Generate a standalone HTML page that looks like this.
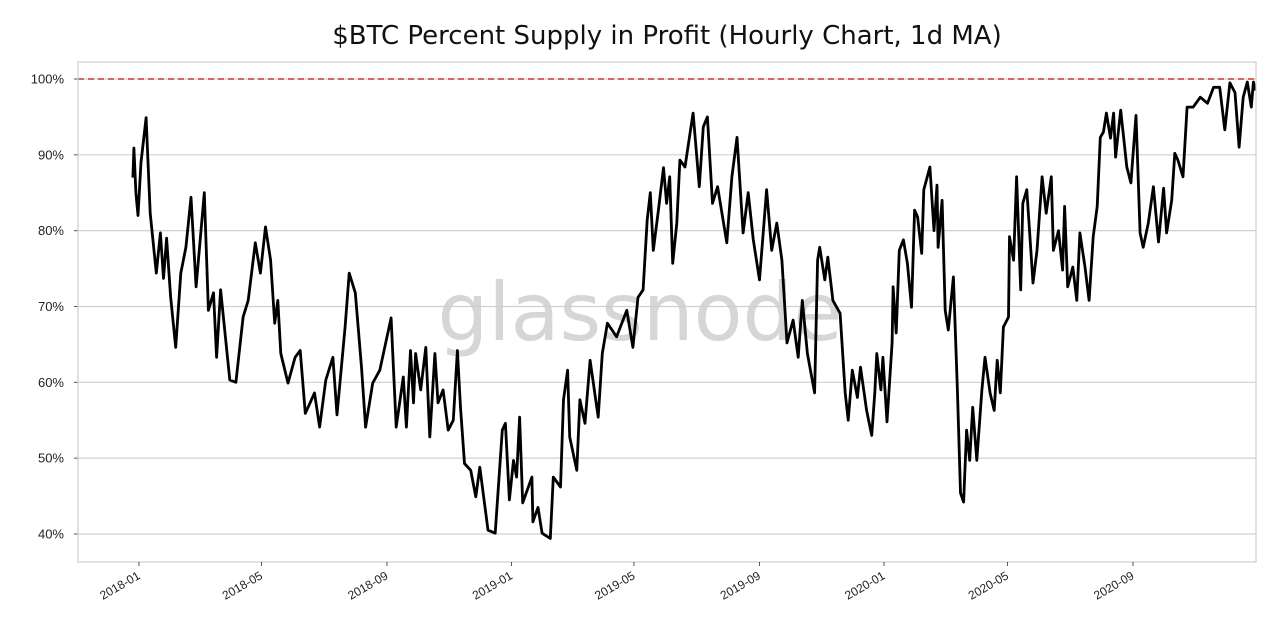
<!DOCTYPE html>
<html><head><meta charset="utf-8"><style>
html,body{margin:0;padding:0;background:#fff;}
svg{display:block;font-family:"Liberation Sans","DejaVu Sans",sans-serif;}
</style></head><body>
<svg id="chart" width="1280" height="640" viewBox="0 0 1280 640">
<text x="667" y="44" text-anchor="middle" font-size="26" fill="#111" font-family="DejaVu Sans, Liberation Sans, sans-serif">$BTC Percent Supply in Profit (Hourly Chart, 1d MA)</text>
<g id="grid"></g>
<text x="640" y="340" text-anchor="middle" font-size="80" fill="#cccccc" fill-opacity="0.8" font-family="DejaVu Sans, Liberation Sans, sans-serif">glassnode</text>
<g id="marks"></g>
<g id="axes"></g>
</svg>
<script>
const days = [-6,-5,-3,-1,2,7,11,17,21,24,27,31,36,41,46,51,56,64,68,73,76,80,89,95,102,107,114,119,124,129,133,136,139,146,153,158,163,172,177,183,190,194,202,206,212,218,222,229,236,247,252,259,262,266,269,271,276,281,285,290,293,298,303,308,312,315,319,325,330,334,342,349,356,359,363,367,370,373,376,385,386,391,395,403,406,413,416,420,422,429,432,437,442,450,454,459,468,478,484,489,494,498,501,504,509,514,517,520,523,527,530,535,540,543,549,553,557,562,567,576,581,586,592,597,602,608,615,620,625,630,635,641,646,650,655,662,665,667,672,675,680,687,692,695,699,704,707,713,718,721,723,727,729,733,738,739,742,745,749,753,757,760,763,767,769,775,779,782,783,787,790,793,798,802,805,808,811,814,817,821,826,829,834,838,841,844,847,852,853,857,860,864,866,870,876,880,885,889,894,896,901,905,907,910,915,919,922,927,931,935,939,942,945,948,952,955,957,962,968,972,977,981,984,989,994,999,1004,1007,1012,1015,1018,1023,1027,1033,1040,1047,1053,1059,1064,1069,1074,1078,1082,1086,1090,1092,1094];
const values = [87,90.9,85,82,89,94.9,82.3,74.4,79.7,73.7,79,71.3,64.6,74.4,77.8,84.4,72.6,85,69.5,71.8,63.3,72.2,60.3,60,68.6,70.8,78.4,74.4,80.5,76.1,67.8,70.8,63.8,59.9,63.3,64.2,55.9,58.6,54.1,60.3,63.3,55.7,67.3,74.4,71.8,62,54.1,59.9,61.6,68.5,54.1,60.7,54.1,64.2,57.3,63.8,59,64.6,52.8,63.8,57.3,59,53.7,55,64.2,56.7,49.3,48.4,44.9,48.8,40.5,40.1,53.7,54.6,44.5,49.7,47.5,55.4,44.1,47.5,41.6,43.5,40.1,39.4,47.5,46.2,57.7,61.6,52.8,48.4,57.7,54.6,62.9,55.4,63.8,67.8,66,69.5,64.6,71.2,72.2,81.4,85,77.4,82.7,88.3,83.6,87.1,75.7,81,89.3,88.4,92.9,95.5,85.8,93.7,95,83.6,85.8,78.4,87.1,92.3,79.7,85,78.8,73.5,85.4,77.4,81,76.1,65.2,68.2,63.3,70.8,63.8,58.6,76.1,77.8,73.5,76.5,70.8,69.1,58.6,55,61.6,58,62,56.3,53,58.6,63.8,59,63.3,54.8,65.2,72.6,66.5,77.4,78.8,75.7,69.9,82.7,81.8,77,85.4,88.4,80,86,77.8,84,69.5,66.9,73.9,59,45.4,44.2,53.7,49.7,56.7,49.7,59,63.3,58.6,56.3,62.9,58.6,67.3,68.6,79.2,76.1,87.1,72.2,83.6,85.4,73.1,77.4,87.1,82.3,87.1,77.4,80,74.8,83.2,72.6,75.2,70.8,79.7,75.2,70.8,79.2,83.2,92.3,93,95.5,92.2,95.5,89.7,95.9,88.4,86.3,95.2,79.7,77.8,81,85.8,78.5,85.6,79.7,84,90.2,89.3,87.1,96.3,96.3,97.6,96.8,98.9,98.9,93.3,99.5,98.2,91,97.6,99.6,96.3,99.6,98.5];
const yTicks = [40,50,60,70,80,90,100];
const xTickLabels = ["2018-01","2018-05","2018-09","2019-01","2019-05","2019-09","2020-01","2020-05","2020-09"];
const xTickDays = [0,120,243,365,485,608,730,851,974];
const refLine = 100;

const NS="http://www.w3.org/2000/svg";
const L=78,R=1256,T=62,B=562;
function xs(d){return 139+d*1.0205;}
function ys(v){return 79+(100-v)*7.583;}
function mk(tag,attrs,parent){const e=document.createElementNS(NS,tag);for(const k in attrs)e.setAttribute(k,attrs[k]);parent.appendChild(e);return e;}
const grid=document.getElementById('grid'),marks=document.getElementById('marks'),axes=document.getElementById('axes');
yTicks.forEach(v=>{
  const g=mk('line',{x1:L,x2:R,y1:ys(v),y2:ys(v),stroke:'#d0d0d0','stroke-width':1.2},grid);
  
  
  const t=mk('text',{x:L-14,y:ys(v)+4.5,'text-anchor':'end','font-size':13,fill:'#222'},axes);
  t.textContent=v+'%';
  
  
  const tk=mk('line',{x1:L-4,x2:L,y1:ys(v),y2:ys(v),stroke:'#555','stroke-width':1},axes);
  
  
});
const frame=mk('rect',{x:L,y:T,width:R-L,height:B-T,fill:'none',stroke:'#cfcfcf','stroke-width':1.2},axes);


xTickLabels.forEach((lab,i)=>{
  const x=xs(xTickDays[i]);
  const tk=mk('line',{x1:x,x2:x,y1:B,y2:B+4,stroke:'#555','stroke-width':1},axes);
  
  
  const t=mk('text',{x:x+2,y:B+16,'text-anchor':'end','font-size':12,fill:'#222',transform:'rotate(-30 '+(x+2)+' '+(B+16)+')'},axes);
  t.textContent=lab;
  
  
});
const ref=mk('line',{x1:L,x2:R,y1:ys(refLine),y2:ys(refLine),stroke:'#d9534f','stroke-width':1.8,'stroke-dasharray':'6,4'},marks);


let d='';
days.forEach((dd,i)=>{d+=(i?'L':'M')+xs(dd).toFixed(1)+','+ys(values[i]).toFixed(1);});
const p=mk('path',{d:d,fill:'none',stroke:'#000','stroke-width':2.8,'stroke-linejoin':'round'},marks);


</script>
</body></html>
